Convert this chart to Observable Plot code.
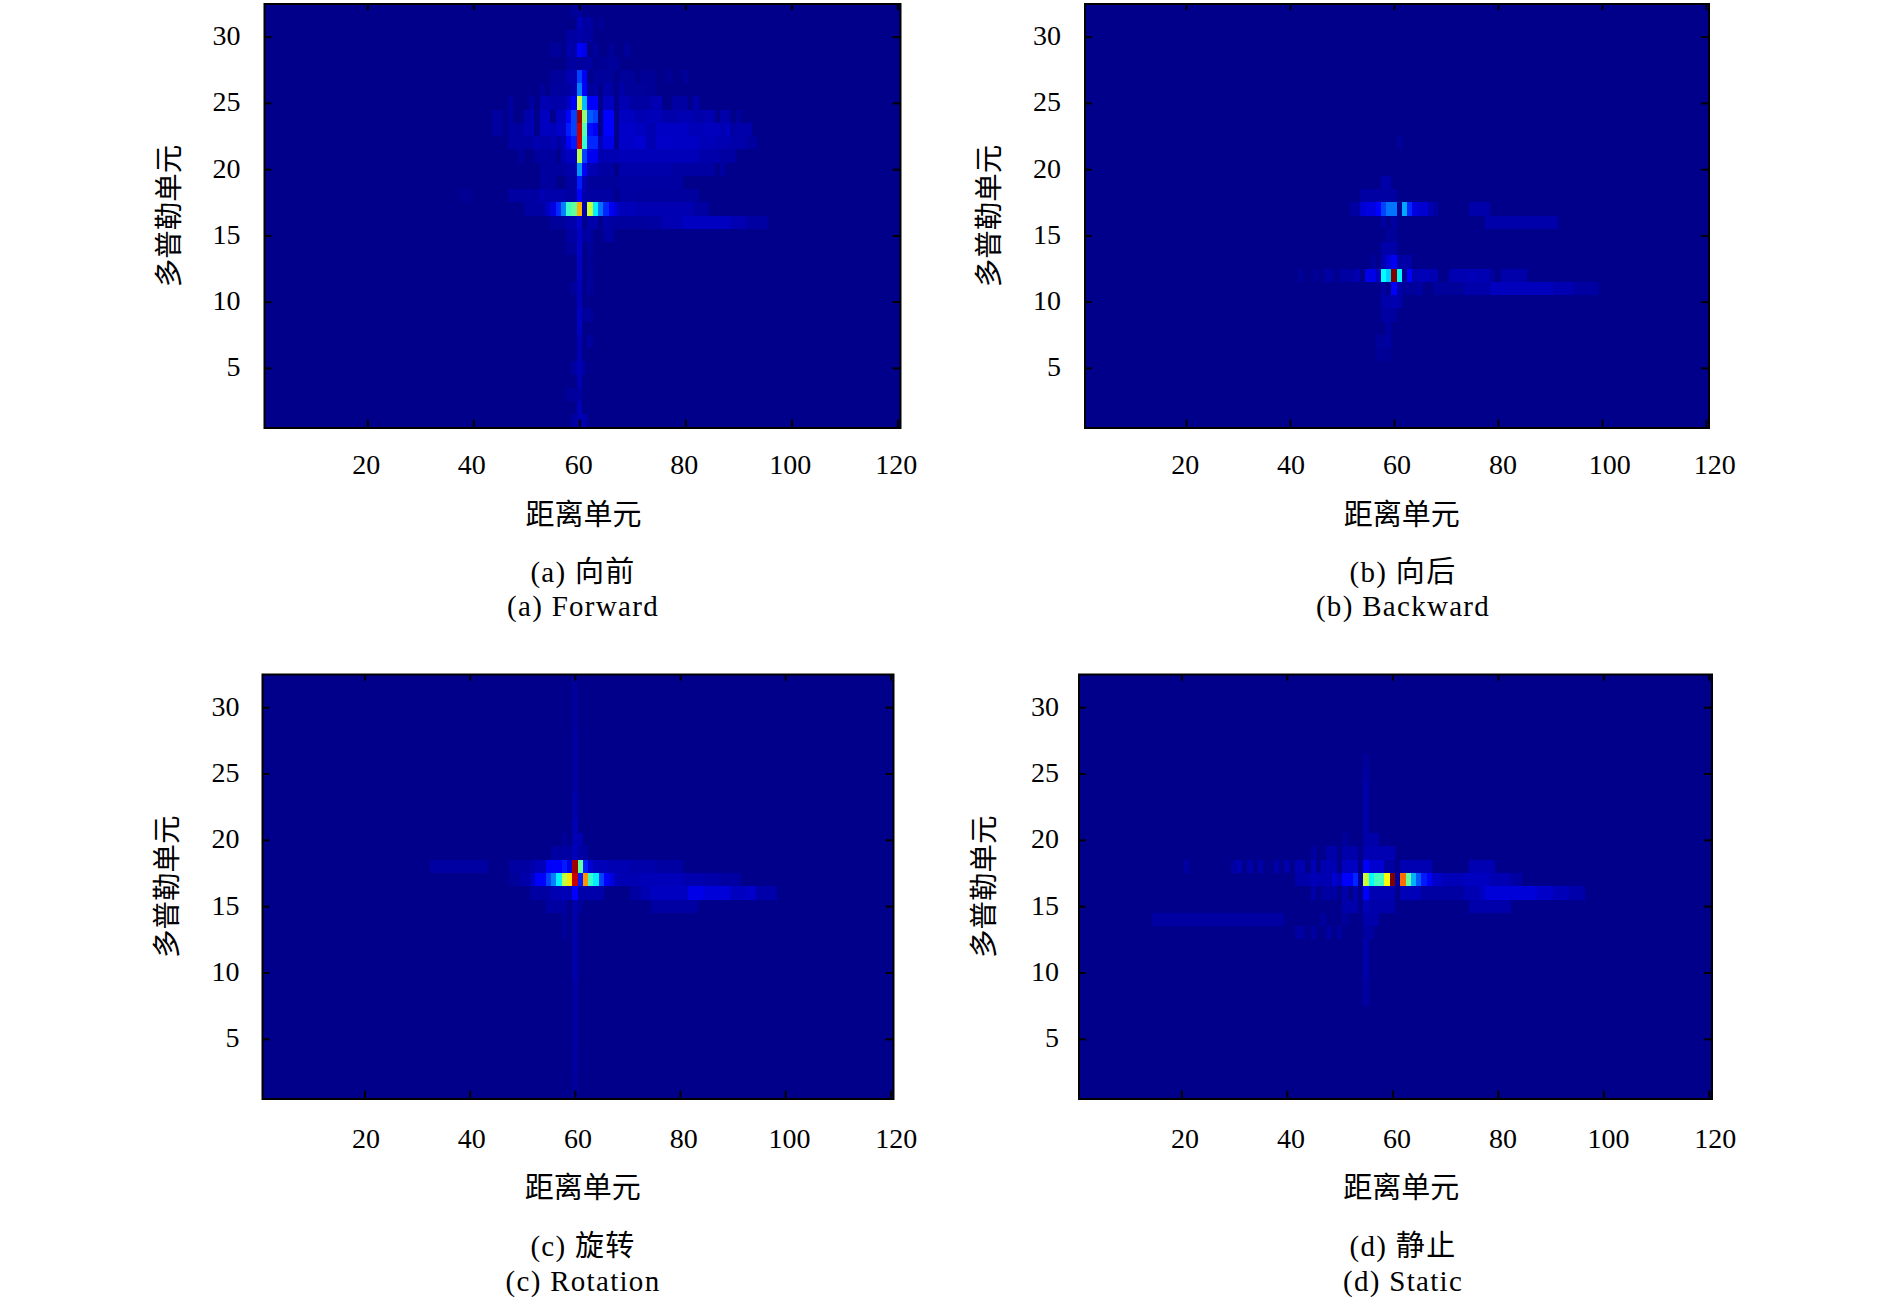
<!DOCTYPE html>
<html lang="zh">
<head>
<meta charset="utf-8">
<script src="https://cdn.jsdelivr.net/npm/d3@7"></script>
<script src="https://cdn.jsdelivr.net/npm/@observablehq/plot@0.6"></script>
<style>
html,body{margin:0;padding:0;background:#fff}
#page{position:relative;width:1890px;height:1303px;overflow:hidden;font-family:"Liberation Serif","Noto Sans CJK SC",serif;color:#000}
#page svg{position:absolute;background:transparent;overflow:visible}
.cap{position:absolute;transform:translate(-50%,-50%);white-space:nowrap;font-size:29px;letter-spacing:1.3px;line-height:1}
</style>
</head>
<body>
<div id="page"></div>
<script>
// Tick values shared by every panel
const xTicks = [20, 40, 60, 80, 100, 120];
const yTicks = [5, 10, 15, 20, 25, 30];

// Jet colour map
const jetStops = [0, 0.15, 0.25, 0.375, 0.5, 0.625, 0.75, 0.875, 1];
const jetColors = ["#00008b","#0000ff","#0080ff","#00ffff","#80ff80","#ffff00","#ff8000","#ff0000","#800000"];

// Heat-map intensities: [doppler row, first range cell, last range cell, value]
const forwardCells = [
[32,59,60,.02],
[31,60,60,.06],[31,61,62,.03],[31,64,64,.015],
[30,58,59,.03],[30,60,60,.04],[30,61,62,.03],
[29,55,56,.02],[29,58,59,.04],[29,60,60,.15],[29,61,61,.12],[29,63,63,.025],[29,66,66,.02],[29,69,69,.02],
[28,58,58,.02],[28,59,59,.03],[28,60,60,.02],[28,61,62,.03],[28,64,65,.015],[28,66,67,.02],
[27,55,57,.02],[27,58,59,.05],[27,60,60,.2],[27,61,61,.14],[27,63,66,.02],[27,68,70,.02],[27,72,74,.015],[27,77,77,.015],[27,80,80,.02],
[26,53,53,.02],[26,55,57,.025],[26,58,58,.03],[26,59,59,.05],[26,60,60,.25],[26,61,61,.15],[26,62,62,.02],[26,63,63,.03],[26,65,65,.04],[26,66,66,.03],[26,68,68,.04],[26,69,72,.02],[26,73,74,.015],
[25,47,47,.025],[25,51,51,.03],[25,53,54,.05],[25,55,57,.04],[25,58,58,.07],[25,59,59,.15],[25,60,60,.57],[25,61,61,.31],[25,62,63,.15],[25,65,66,.07],[25,68,69,.05],[25,70,73,.03],[25,74,75,.05],[25,78,80,.03],[25,82,82,.04],
[24,44,45,.025],[24,47,47,.03],[24,50,50,.04],[24,51,51,.05],[24,53,54,.07],[24,56,57,.07],[24,58,58,.15],[24,59,59,.2],[24,60,60,.97],[24,61,61,.52],[24,62,62,.22],[24,63,63,.2],[24,65,66,.15],[24,68,70,.07],[24,71,72,.05],[24,73,75,.06],[24,76,78,.04],[24,79,81,.05],[24,82,83,.04],[24,84,85,.05],[24,87,88,.04],[24,90,90,.02],
[23,44,45,.025],[23,47,49,.03],[23,50,51,.05],[23,53,54,.07],[23,55,55,.06],[23,56,57,.08],[23,58,58,.17],[23,59,59,.2],[23,60,60,.93],[23,61,61,.46],[23,62,62,.16],[23,63,63,.14],[23,65,66,.15],[23,68,70,.08],[23,71,72,.07],[23,73,74,.05],[23,75,80,.075],[23,81,83,.06],[23,84,86,.065],[23,87,87,.05],[23,88,88,.07],[23,89,89,.03],[23,90,92,.04],
[22,47,48,.03],[22,49,50,.03],[22,51,51,.03],[22,52,52,.05],[22,53,54,.04],[22,55,55,.05],[22,56,56,.03],[22,57,57,.05],[22,58,58,.14],[22,59,59,.17],[22,60,60,.92],[22,61,61,.43],[22,62,63,.18],[22,64,64,.06],[22,65,66,.12],[22,68,70,.08],[22,71,72,.09],[22,73,74,.05],[22,75,77,.08],[22,78,82,.075],[22,83,85,.06],[22,86,88,.05],[22,89,91,.04],[22,92,93,.025],
[21,49,49,.02],[21,52,55,.025],[21,57,57,.05],[21,58,59,.07],[21,60,60,.55],[21,61,61,.2],[21,62,63,.13],[21,64,67,.05],[21,68,72,.06],[21,73,82,.06],[21,83,86,.04],[21,87,89,.03],
[20,53,57,.025],[20,58,59,.04],[20,60,60,.27],[20,61,61,.14],[20,62,63,.05],[20,64,66,.03],[20,68,77,.04],[20,78,85,.03],[20,87,87,.03],
[19,53,55,.025],[19,58,59,.03],[19,60,60,.17],[19,61,61,.05],[19,62,67,.02],[19,68,79,.03],
[18,38,39,.012],[18,47,52,.03],[18,53,53,.05],[18,54,57,.04],[18,58,59,.03],[18,60,60,.15],[18,61,61,.04],[18,62,66,.03],[18,68,70,.03],[18,71,82,.025],
[17,50,53,.03],[17,54,54,.07],[17,55,55,.11],[17,56,56,.18],[17,57,57,.25],[17,58,58,.43],[17,59,59,.47],[17,60,60,.7],[17,61,61,.04],[17,62,62,.57],[17,63,63,.36],[17,64,64,.24],[17,65,65,.18],[17,66,66,.14],[17,67,67,.09],[17,68,70,.06],[17,71,81,.05],[17,82,84,.03],
[16,55,57,.02],[16,58,59,.04],[16,60,60,.09],[16,62,63,.04],[16,65,65,.04],[16,66,72,.025],[16,73,75,.03],[16,76,79,.05],[16,80,88,.07],[16,89,91,.05],[16,92,95,.03],
[15,58,59,.03],[15,60,60,.07],[15,61,62,.03],[15,65,66,.03],
[14,58,59,.02],[14,60,60,.08],[14,62,62,.02],
[13,60,60,.07],[13,62,62,.015],
[12,60,60,.07],[12,62,62,.02],
[11,59,59,.02],[11,60,60,.06],[11,62,62,.02],
[10,60,60,.06],
[9,60,60,.07],[9,61,62,.02],
[8,60,60,.07],
[7,60,60,.05],[7,62,62,.025],
[6,60,60,.05],
[5,59,59,.03],[5,60,60,.06],[5,61,61,.02],
[4,60,60,.05],
[3,58,59,.02],[3,60,60,.03],
[2,60,60,.06],
[1,59,59,.03],[1,60,60,.05],[1,61,61,.05]
];
const backwardCells = [
[22,61,61,.02],
[19,58,59,.04],
[18,54,60,.03],
[17,52,53,.03],[17,54,54,.09],[17,55,56,.11],[17,57,57,.15],[17,58,58,.2],[17,59,59,.24],[17,60,60,.24],[17,61,61,.01],[17,62,62,.29],[17,63,63,.18],[17,64,64,.11],[17,65,66,.09],[17,67,67,.05],[17,68,68,.03],[17,75,78,.04],
[16,58,58,.03],[16,60,60,.03],[16,78,91,.04],
[15,59,60,.02],
[14,58,60,.04],
[13,56,56,.02],[13,58,58,.05],[13,59,59,.09],[13,60,60,.14],[13,61,63,.035],
[12,42,42,.02],[12,45,45,.015],[12,47,48,.03],[12,50,52,.03],[12,53,53,.05],[12,55,56,.12],[12,57,57,.06],[12,58,58,.375],[12,59,59,.33],[12,60,60,1],[12,61,61,.37],[12,62,62,.01],[12,63,63,.15],[12,64,64,.05],[12,65,66,.06],[12,67,68,.05],[12,71,74,.05],[12,75,75,.06],[12,76,78,.05],[12,79,79,.02],[12,81,84,.04],[12,85,85,.04],
[11,58,58,.03],[11,60,60,.15],[11,61,61,.04],[11,62,64,.02],[11,65,65,.03],[11,68,73,.02],[11,74,78,.04],[11,79,90,.065],[11,91,94,.05],[11,95,99,.03],
[10,58,59,.04],[10,60,60,.05],[10,61,61,.04],
[9,58,59,.03],[9,60,60,.025],
[8,59,59,.03],
[7,57,58,.02],[7,59,59,.03],
[6,57,59,.015]
];
const rotationCells = [
[32,60,60,.02],[31,60,60,.02],[30,60,60,.02],[29,60,60,.02],[28,60,60,.025],[27,60,60,.03],[26,60,60,.03],[25,60,60,.03],[24,60,60,.03],[23,60,60,.04],[22,60,60,.04],
[21,60,60,.05],
[20,58,58,.02],[20,60,61,.05],
[19,56,62,.03],[19,60,60,.06],
[18,33,43,.03],[18,48,51,.03],[18,52,52,.04],[18,53,54,.06],[18,55,57,.15],[18,58,58,.17],[18,59,59,.11],[18,60,60,.97],[18,61,61,.47],[18,62,62,.17],[18,63,63,.09],[18,64,66,.06],[18,67,70,.05],[18,71,75,.04],[18,76,80,.03],
[17,48,49,.02],[17,50,51,.04],[17,52,52,.07],[17,53,54,.15],[17,55,55,.2],[17,56,56,.25],[17,57,57,.36],[17,58,58,.56],[17,59,59,.65],[17,60,60,.93],[17,61,61,.17],[17,62,62,.73],[17,63,63,.43],[17,64,64,.36],[17,65,65,.2],[17,66,66,.15],[17,67,67,.11],[17,68,68,.06],[17,69,72,.05],[17,73,80,.06],[17,81,84,.045],[17,85,87,.04],[17,88,91,.03],
[16,52,55,.03],[16,56,57,.05],[16,58,58,.06],[16,59,59,.05],[16,60,60,.15],[16,61,65,.04],[16,71,72,.03],[16,73,74,.05],[16,75,81,.07],[16,82,84,.12],[16,85,89,.1],[16,90,92,.07],[16,93,94,.08],[16,95,98,.04],
[15,55,58,.03],[15,60,60,.04],[15,61,61,.02],[15,75,83,.03],
[14,58,58,.02],[14,60,60,.04],
[13,58,58,.02],[13,60,60,.04],
[12,60,60,.04],[11,60,60,.04],[10,60,60,.04],[9,60,60,.03],[8,60,60,.03],[7,60,60,.03],[6,60,60,.03],[5,60,60,.03],[4,60,60,.025],[3,60,60,.025],[2,60,60,.02],[1,60,60,.02]
];
const staticCells = [
[26,55,55,.02],[25,55,55,.03],[24,55,55,.04],[23,55,55,.04],[22,55,55,.04],[21,55,55,.04],
[20,51,51,.02],[20,55,57,.04],
[19,45,45,.03],[19,48,49,.04],[19,51,53,.04],[19,55,60,.05],
[18,21,21,.03],[18,30,30,.03],[18,31,31,.05],[18,33,33,.04],[18,35,35,.04],[18,38,38,.04],[18,40,40,.04],[18,42,43,.05],[18,45,45,.06],[18,47,49,.05],[18,51,53,.07],[18,55,55,.15],[18,56,58,.09],[18,59,60,.03],[18,62,67,.05],[18,75,79,.05],
[17,42,44,.04],[17,45,45,.06],[17,46,48,.05],[17,49,49,.09],[17,50,50,.06],[17,51,52,.15],[17,53,53,.18],[17,54,54,.03],[17,55,55,.57],[17,56,56,.37],[17,57,58,.44],[17,59,59,.62],[17,60,60,1],[17,61,61,.02],[17,62,62,.77],[17,63,63,.47],[17,64,64,.3],[17,65,65,.22],[17,66,66,.17],[17,67,67,.14],[17,68,69,.08],[17,70,73,.06],[17,74,78,.07],[17,79,82,.05],[17,83,84,.03],
[16,45,45,.04],[16,47,47,.03],[16,48,49,.03],[16,51,51,.04],[16,53,53,.04],[16,55,55,.15],[16,56,60,.05],[16,62,65,.06],[16,66,73,.03],[16,74,76,.05],[16,77,77,.07],[16,78,87,.1],[16,88,90,.08],[16,91,93,.06],[16,94,96,.04],
[15,51,53,.04],[15,55,55,.06],[15,56,60,.04],[15,75,82,.04],
[14,15,39,.03],[14,47,47,.03],[14,51,51,.02],[14,55,57,.04],
[13,42,43,.03],[13,45,45,.03],[13,48,48,.03],[13,50,50,.03],[13,55,55,.03],[13,56,56,.03],
[12,55,55,.04],[11,55,55,.04],[10,55,55,.04],[9,55,55,.03],[8,55,55,.03]
];

// Frames in page pixels, with where each panel's tick labels fall in range-cell units
const panels = [
 {cells:forwardCells,  sx:0,   sy:0,   h:540, left:264,    right:900,  top:3.5, bottom:427.5,  xAt:[19.7,39.6,59.8,79.7,99.7,119.7],  titleX:60.7, tickDy:37, titleDy:88, yDx:-24, yTitleDx:-95,
  c1:"(a) 向前", c2:"(a) Forward",  cx:583,  cy1:572,  cy2:606},
 {cells:backwardCells, sx:945, sy:0,   h:540, left:1084.5, right:1708.5, top:3.5, bottom:427.5,  xAt:[19.8,40.1,60.5,80.9,101.4,121.6],   titleX:61.4, tickDy:37, titleDy:88, yDx:-24, yTitleDx:-95,
  c1:"(b) 向后", c2:"(b) Backward", cx:1403, cy1:572,  cy2:606},
 {cells:rotationCells, sx:0,   sy:651, h:560, left:262,    right:893,  top:674, bottom:1098.5, xAt:[20.2,40.3,60.5,80.6,100.7,121], titleX:61.4, tickDy:40, titleDy:90, yDx:-23, yTitleDx:-95,
  c1:"(c) 旋转", c2:"(c) Rotation", cx:583,  cy1:1246, cy2:1281},
 {cells:staticCells,   sx:945, sy:651, h:560, left:1078.5, right:1711.5, top:674, bottom:1098.5, xAt:[20.6,40.7,60.8,80.9,100.9,121.1], titleX:61.6, tickDy:40, titleDy:90, yDx:-20, yTitleDx:-94,
  c1:"(d) 静止", c2:"(d) Static",   cx:1403, cy1:1246, cy2:1281}
];

const xTitle = "距离单元";
const yTitle = "多普勒单元";
const textFont = '"Liberation Serif","Noto Sans CJK SC",serif';
const xMin = 0.5, xMax = 120.5, yMin = 0.5, yMax = 32.5;

const page = document.getElementById("page");
for (const p of panels) {
  const rows = [{c1:1, c2:120, r1:1, r2:32, v:0}].concat(
    p.cells.map(([r, c1, c2, v]) => ({c1, c2, r1:r, r2:r, v})));
  const chart = Plot.plot({
    width: 945,
    height: p.h,
    marginLeft: p.left - p.sx,
    marginRight: p.sx + 945 - p.right,
    marginTop: p.top - p.sy,
    marginBottom: p.sy + p.h - p.bottom,
    x: {domain: [xMin, xMax], axis: null},
    y: {domain: [yMin, yMax], axis: null},
    color: {type: "linear", domain: jetStops, range: jetColors},
    marks: [
      Plot.rect(rows, {x1: d => d.c1 - 0.5, x2: d => d.c2 + 0.5, y1: d => d.r1 - 0.5, y2: d => d.r2 + 0.5, fill: "v", shapeRendering: "crispEdges"}),
      Plot.ruleX(xTicks, {x: d => d, y1: yMin, y2: yMin + 0.6, stroke: "#000", strokeWidth: 2}),
      Plot.ruleX(xTicks, {x: d => d, y1: yMax - 0.5, y2: yMax, stroke: "#000", strokeWidth: 2}),
      Plot.ruleY(yTicks, {y: d => d, x1: xMin, x2: xMin + 1.4, stroke: "#000", strokeWidth: 2}),
      Plot.ruleY(yTicks, {y: d => d, x1: xMax - 1.4, x2: xMax, stroke: "#000", strokeWidth: 2}),
      Plot.frame({stroke: "#000", strokeWidth: 2}),
      Plot.text(xTicks, {x: (d, i) => p.xAt[i], y: yMin, dy: p.tickDy, text: d => String(d), fontSize: 28, fontFamily: textFont, fill: "#000"}),
      Plot.text(yTicks, {x: xMin, y: d => d, dx: p.yDx, dy: -1, textAnchor: "end", text: d => String(d), fontSize: 28, fontFamily: textFont, fill: "#000"}),
      Plot.text([xTitle], {x: p.titleX, y: yMin, dy: p.titleDy, text: d => d, fontSize: 29, fontFamily: textFont, fill: "#000"}),
      Plot.text([yTitle], {x: xMin, y: 16.5, dx: p.yTitleDx, rotate: -90, text: d => d, fontSize: 28.5, fontFamily: textFont, fill: "#000"})
    ]
  });
  chart.style.left = p.sx + "px";
  chart.style.top = p.sy + "px";
  page.appendChild(chart);
  for (const [txt, y] of [[p.c1, p.cy1], [p.c2, p.cy2]]) {
    const cap = document.createElement("div");
    cap.className = "cap";
    cap.textContent = txt;
    cap.style.left = p.cx + "px";
    cap.style.top = y + "px";
    page.appendChild(cap);
  }
}
</script>
</body>
</html>
